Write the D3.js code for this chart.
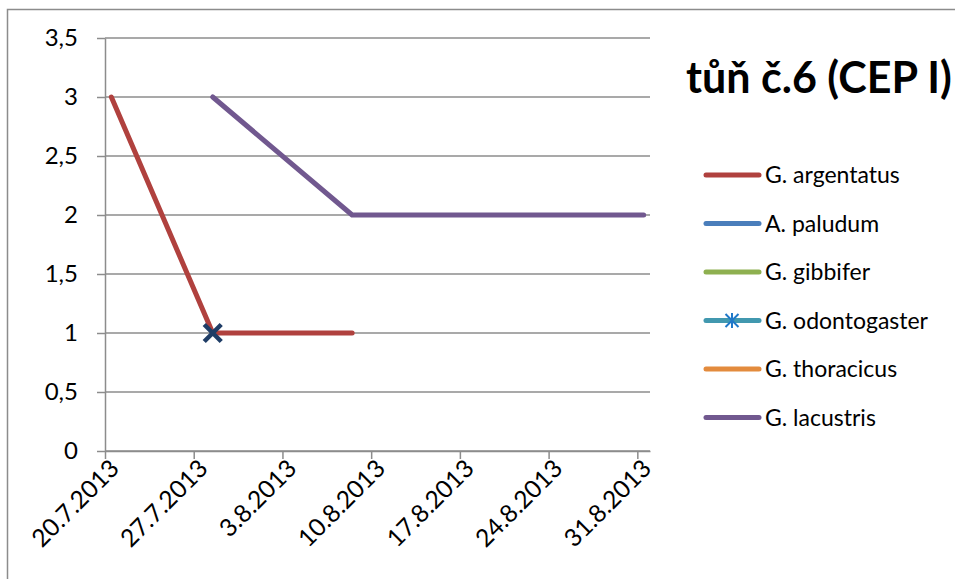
<!DOCTYPE html>
<html>
<head>
<meta charset="utf-8">
<script src="https://cdn.jsdelivr.net/npm/d3@7"></script>
<style>
  html, body { margin: 0; padding: 0; background: #fff; }
  svg { display: block; font-family: Lato, "Open Sans", sans-serif; }
</style>
</head>
<body>
<svg id="chart" width="955" height="579"></svg>
<script>
// sampling dates (d.m.yyyy)
const dates = ["20.7.2013", "28.7.2013", "8.8.2013", "31.8.2013"];
const tickLabels = ["20.7.2013", "27.7.2013", "3.8.2013", "10.8.2013", "17.8.2013", "24.8.2013", "31.8.2013"];
const yTicks = [0, 0.5, 1, 1.5, 2, 2.5, 3, 3.5];

const seriesNames = ["G. argentatus", "A. paludum", "G. gibbifer", "G. odontogaster", "G. thoracicus", "G. lacustris"];
const argentatus = [3, 1, 1, null];
const paludum = [null, null, null, null];
const gibbifer = [null, null, null, null];
const odontogaster = [null, 1, null, null];
const thoracicus = [null, null, null, null];
const lacustris = [null, 3, 2, 2];

const titleText = "tůň č.6 (CEP I)";

const parseDate = s => {
    const [d, m, y] = s.split(".").map(Number);
    return new Date(Date.UTC(y, m - 1, d));
};

const series = [
    { name: seriesNames[0], values: argentatus, color: "#B0413E" },
    { name: seriesNames[1], values: paludum, color: "#4A7EBB" },
    { name: seriesNames[2], values: gibbifer, color: "#8EB050" },
    { name: seriesNames[3], values: odontogaster, color: "#4198AF", marker: true },
    { name: seriesNames[4], values: thoracicus, color: "#E38B3D" },
    { name: seriesNames[5], values: lacustris, color: "#71588F" }
];

const svg = d3.select("#chart");
const gray = "#8C8C8C";

// chart border (right and bottom edge lie outside the picture)
svg.append("rect")
    .attr("x", 7.5).attr("y", 9.5)
    .attr("width", 1000).attr("height", 700)
    .attr("fill", "none")
    .attr("stroke", gray)
    .attr("stroke-width", 1.5);

const plot = { left: 105, right: 650, top: 38, bottom: 451 };

const x = d3.scaleUtc()
    .domain([parseDate("20.7.2013"), d3.utcDay.offset(parseDate("31.8.2013"), 1)])
    .range([plot.left, plot.right]);

const y = d3.scaleLinear()
    .domain([0, 3.5])
    .range([plot.bottom, plot.top]);

const fmt = d3.formatLocale({ decimal: ",", thousands: " ", grouping: [3], currency: ["", ""] }).format("~g");

// gridlines
svg.append("g")
    .selectAll("line")
    .data(yTicks)
    .join("line")
    .attr("x1", plot.left).attr("x2", plot.right)
    .attr("y1", d => y(d)).attr("y2", d => y(d))
    .attr("stroke", gray)
    .attr("stroke-width", 1.5);

// y axis
const yAxis = svg.append("g")
    .attr("transform", `translate(${plot.left},0)`)
    .call(d3.axisLeft(y).tickValues(yTicks).tickFormat(fmt).tickSizeInner(8).tickSizeOuter(0).tickPadding(19));
yAxis.select(".domain").attr("stroke", gray).attr("stroke-width", 1.5);
yAxis.selectAll(".tick line").attr("stroke", gray).attr("stroke-width", 1.5);
yAxis.selectAll("text").attr("font-size", 24).attr("fill", "#000").attr("font-family", "Lato");

// x axis
const xTicks = tickLabels.map(parseDate);
const xAxis = svg.append("g")
    .attr("transform", `translate(0,${plot.bottom})`)
    .call(d3.axisBottom(x).tickValues(xTicks).tickFormat((d, i) => tickLabels[i]).tickSizeInner(8).tickSizeOuter(0));
xAxis.select(".domain").attr("stroke", gray).attr("stroke-width", 1.5);
xAxis.selectAll(".tick line").attr("stroke", gray).attr("stroke-width", 1.5);
xAxis.selectAll("text")
    .attr("font-size", 24.5)
    .attr("font-family", "Lato")
    .attr("fill", "#000")
    .attr("text-anchor", "end")
    .attr("y", 0)
    .attr("dy", "0.35em")
    .attr("transform", "translate(9,13) rotate(-45)");

// series lines
const pointDate = i => d3.utcHour.offset(parseDate(dates[i]), 12);
const line = d3.line()
    .defined(d => d.v != null)
    .x(d => x(d.t))
    .y(d => y(d.v));

series.forEach(s => {
    const pts = s.values.map((v, i) => ({ t: pointDate(i), v }));
    svg.append("path")
        .datum(pts)
        .attr("d", line)
        .attr("fill", "none")
        .attr("stroke", s.color)
        .attr("stroke-width", 5)
        .attr("stroke-linecap", "round")
        .attr("stroke-linejoin", "round");
    if (s.marker) {
        const g = svg.append("g");
        pts.filter(d => d.v != null).forEach(d => {
            const cx = x(d.t), cy = y(d.v), r = 8.5;
            g.append("path")
                .attr("d", `M${cx - r},${cy - r}L${cx + r},${cy + r}M${cx - r},${cy + r}L${cx + r},${cy - r}`)
                .attr("stroke", "#1F3D66")
                .attr("stroke-width", 4.5);
        });
    }
});

// title
svg.append("text")
    .attr("x", 686).attr("y", 93)
    .attr("font-size", 43)
    .attr("font-weight", "bold")
    .attr("font-family", "Lato")
    .attr("fill", "#000")
    .text(titleText);

// legend
const legend = svg.append("g");
series.forEach((s, i) => {
    const ly = 175 + i * 48.5;
    legend.append("line")
        .attr("x1", 706).attr("x2", 759)
        .attr("y1", ly).attr("y2", ly)
        .attr("stroke", s.color)
        .attr("stroke-width", 5)
        .attr("stroke-linecap", "round");
    if (s.marker) {
        const cx = 732, r = 6.5;
        legend.append("path")
            .attr("d", `M${cx - r},${ly - r}L${cx + r},${ly + r}M${cx - r},${ly + r}L${cx + r},${ly - r}M${cx},${ly - r - 1}L${cx},${ly + r + 1}`)
            .attr("stroke", "#1F78C8")
            .attr("stroke-width", 2);
    }
    legend.append("text")
        .attr("x", 765).attr("y", ly)
        .attr("dy", "0.35em")
        .attr("font-size", 23)
        .attr("font-family", "Lato")
        .attr("fill", "#000")
        .text(s.name);
});
</script>
</body>
</html>
